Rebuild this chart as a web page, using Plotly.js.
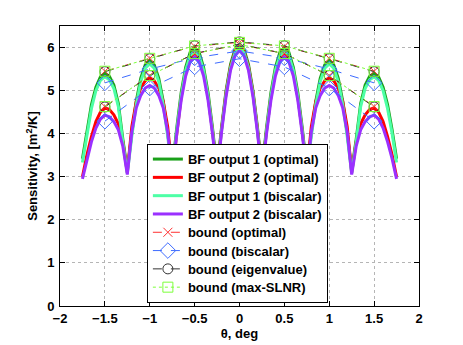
<!DOCTYPE html>
<html>
<head>
<meta charset="utf-8">
<script src="https://cdn.plot.ly/plotly-3.0.1.min.js"></script>
<style>
  html, body { margin:0; padding:0; background:#fff; }
  #chart { width:463px; height:345px; }
</style>
</head>
<body>
<div id="chart"></div>
<script>
  // scan angle grid, deg
  const theta = [-1.75,-1.7,-1.65,-1.6,-1.55,-1.5,-1.45,-1.4,-1.35,-1.3,-1.25,-1.2,-1.15,-1.1,-1.05,-1.0,
    -0.95,-0.9,-0.85,-0.8,-0.75,-0.7,-0.65,-0.6,-0.55,-0.5,-0.45,-0.4,-0.35,-0.3,-0.25,-0.2,-0.15,-0.1,-0.05,0,
    0.05,0.1,0.15,0.2,0.25,0.3,0.35,0.4,0.45,0.5,0.55,0.6,0.65,0.7,0.75,0.8,0.85,0.9,0.95,1.0,
    1.05,1.1,1.15,1.2,1.25,1.3,1.35,1.4,1.45,1.5,1.55,1.6,1.65,1.7,1.75];

  const bfOut1Opt = [3.42,4.09,4.67,5.08,5.32,5.40,5.33,5.13,4.70,3.87,3.15,4.02,4.76,5.29,5.60,5.70,
    5.60,5.29,4.76,4.02,3.15,4.12,4.95,5.54,5.89,6.00,5.89,5.54,4.95,4.12,3.15,4.15,5.00,5.61,5.96,6.08,
    5.96,5.61,5.00,4.15,3.15,4.12,4.95,5.54,5.89,6.00,5.89,5.54,4.95,4.12,3.15,4.02,4.76,5.29,5.60,5.70,
    5.60,5.29,4.76,4.02,3.15,3.87,4.70,5.13,5.33,5.40,5.32,5.08,4.67,4.09,3.42];

  const bfOut2Opt = [3.00,3.51,3.93,4.28,4.50,4.60,4.56,4.44,4.23,3.82,3.10,4.16,4.75,5.06,5.23,5.30,
    5.23,5.06,4.75,4.16,3.10,4.05,4.85,5.44,5.77,5.88,5.77,5.44,4.85,4.05,3.10,4.10,4.95,5.56,5.91,6.03,
    5.91,5.56,4.95,4.10,3.10,4.05,4.85,5.44,5.77,5.88,5.77,5.44,4.85,4.05,3.10,4.16,4.75,5.06,5.23,5.30,
    5.23,5.06,4.75,4.16,3.10,3.82,4.23,4.44,4.56,4.60,4.50,4.28,3.93,3.51,3.00];

  const bfOut1Bis = [3.33,4.01,4.58,5.00,5.24,5.32,5.25,5.05,4.63,3.80,3.08,3.94,4.68,5.21,5.52,5.62,
    5.52,5.21,4.68,3.94,3.08,4.05,4.87,5.47,5.81,5.92,5.81,5.47,4.87,4.05,3.08,4.07,4.92,5.53,5.88,6.00,
    5.88,5.53,4.92,4.07,3.08,4.05,4.87,5.47,5.81,5.92,5.81,5.47,4.87,4.05,3.08,3.94,4.68,5.21,5.52,5.62,
    5.52,5.21,4.68,3.94,3.08,3.80,4.63,5.05,5.25,5.32,5.24,5.00,4.58,4.01,3.33];

  const bfOut2Bis = [2.95,3.42,3.81,4.13,4.34,4.43,4.39,4.28,4.09,3.71,3.05,4.04,4.60,4.89,5.06,5.12,
    5.06,4.89,4.60,4.04,3.05,3.98,4.77,5.34,5.67,5.78,5.67,5.34,4.77,3.98,3.05,4.03,4.86,5.47,5.81,5.93,
    5.81,5.47,4.86,4.03,3.05,3.98,4.77,5.34,5.67,5.78,5.67,5.34,4.77,3.98,3.05,4.04,4.60,4.89,5.06,5.12,
    5.06,4.89,4.60,4.04,3.05,3.71,4.09,4.28,4.39,4.43,4.34,4.13,3.81,3.42,2.95];

  // beam pointing angles and bound values (output 1, output 2)
  const beamAngles = [-1.5,-1,-0.5,0,0.5,1,1.5];
  const boundOptOut1 = [5.45,5.75,6.03,6.12,6.03,5.75,5.45];
  const boundOptOut2 = [4.63,5.35,5.86,6.07,5.86,5.35,4.63];
  const boundBisOut1 = [5.18,5.50,5.76,5.92,5.76,5.50,5.18];
  const boundBisOut2 = [4.29,5.06,5.55,5.74,5.55,5.06,4.29];
  const boundEigOut1 = [5.44,5.74,6.04,6.13,6.04,5.74,5.44];
  const boundEigOut2 = [4.62,5.35,5.86,6.08,5.86,5.35,4.62];
  const boundSlnrOut1 = [5.45,5.75,6.04,6.12,6.04,5.75,5.45];
  const boundSlnrOut2 = [4.63,5.35,5.86,6.07,5.86,5.35,4.63];

  const xTicks = [-2,-1.5,-1,-0.5,0,0.5,1,1.5,2];
  const yTicks = [0,1,2,3,4,5,6];

  const FONT = 'Liberation Sans, Arial, Helvetica, sans-serif';

  function curve(y, color, name){
    return { x: theta, y: y, type:'scatter', mode:'lines', name: name,
      line: { color: color, width: 3 } };
  }
  function bound(y1, y2, color, dash, symbol, size, name){
    return {
      x: beamAngles.concat([null], beamAngles),
      y: y1.concat([null], y2),
      type:'scatter', mode:'lines+markers', name: name, connectgaps:false,
      line: { color: color, width: 1, dash: dash },
      marker: { symbol: symbol, size: size, color: color, line: { color: color, width: 1 } }
    };
  }

  const traces = [
    curve(bfOut1Opt, '#1aa01a', 'BF output 1 (optimal)'),
    curve(bfOut2Opt, '#ff0000', 'BF output 2 (optimal)'),
    curve(bfOut1Bis, '#4dffa6', 'BF output 1 (biscalar)'),
    curve(bfOut2Bis, '#9b30ff', 'BF output 2 (biscalar)'),
    bound(boundOptOut1, boundOptOut2, '#ff3030', 'dash', 'x-thin-open', 9, 'bound (optimal)'),
    bound(boundBisOut1, boundBisOut2, '#3d6bff', 'dash', 'diamond-open', 12, 'bound (biscalar)'),
    bound(boundEigOut1, boundEigOut2, '#333333', 'dash', 'circle-open', 10, 'bound (eigenvalue)'),
    bound(boundSlnrOut1, boundSlnrOut2, '#7cff3a', 'dot', 'square-open', 10, 'bound (max-SLNR)')
  ];

  const axisCommon = {
    showline: true, linecolor: '#000', linewidth: 1, mirror: 'ticks',
    ticks: 'inside', ticklen: 5, tickcolor: '#000',
    showgrid: true, gridcolor: '#b5b5b5', griddash: 'dot', gridwidth: 1,
    zeroline: false,
    tickfont: { family: FONT, size: 13, color: '#000', weight: 'bold' }
  };

  const layout = {
    width: 463, height: 345,
    margin: { l: 60, r: 44, t: 26, b: 39 },
    paper_bgcolor: '#fff', plot_bgcolor: '#fff',
    showlegend: true,
    xaxis: Object.assign({}, axisCommon, {
      range: [-2, 2], tickvals: xTicks,
      title: { text: 'θ, deg', standoff: 4, font: { family: FONT, size: 13, color: '#000', weight: 'bold' } }
    }),
    yaxis: Object.assign({}, axisCommon, {
      range: [0, 6.5], tickvals: yTicks, ticklabelstandoff: 2,
      title: { text: 'Sensitivity, [m<sup>2</sup>/K]', standoff: 6, font: { family: FONT, size: 13, color: '#000', weight: 'bold' } }
    }),
    legend: {
      x: 0.242, y: 0.011, xanchor: 'left', yanchor: 'bottom',
      bgcolor: '#fff', bordercolor: '#000', borderwidth: 1,
      font: { family: FONT, size: 13, color: '#000', weight: 'bold' },
      tracegroupgap: 0
    }
  };

  // tighten legend rows to the matlab-like spacing, keep the bottom edge in place
  function tightenLegend(gd){
    const leg = gd.querySelector('.legend');
    if (!leg) return;
    const items = Array.from(leg.querySelectorAll('.traces'));
    if (items.length < 2) return;
    const re = /translate\(\s*([-\d.e]+)[ ,]+([-\d.e]+)\s*\)/;
    const pos = items.map(g => { const m = re.exec(g.getAttribute('transform') || ''); return m ? [+m[1], +m[2]] : null; });
    if (pos.some(p => !p)) return;
    const oldStep = pos[1][1] - pos[0][1];
    const step = 18.3;
    if (!(oldStep > step)) return;
    items.forEach((g, i) => g.setAttribute('transform', `translate(${pos[i][0]},${pos[0][1] - 1 + i*step})`));
    const shrink = (oldStep - step) * (items.length - 1) + 2;
    const bg = leg.querySelector('rect.bg');
    if (bg) bg.setAttribute('height', +bg.getAttribute('height') - shrink);
    const m = re.exec(leg.getAttribute('transform') || '');
    if (m) leg.setAttribute('transform', `translate(${m[1]},${+m[2] + shrink})`);
  }

  Plotly.newPlot('chart', traces, layout, { displayModeBar: false, staticPlot: true })
    .then(tightenLegend);
</script>
</body>
</html>
